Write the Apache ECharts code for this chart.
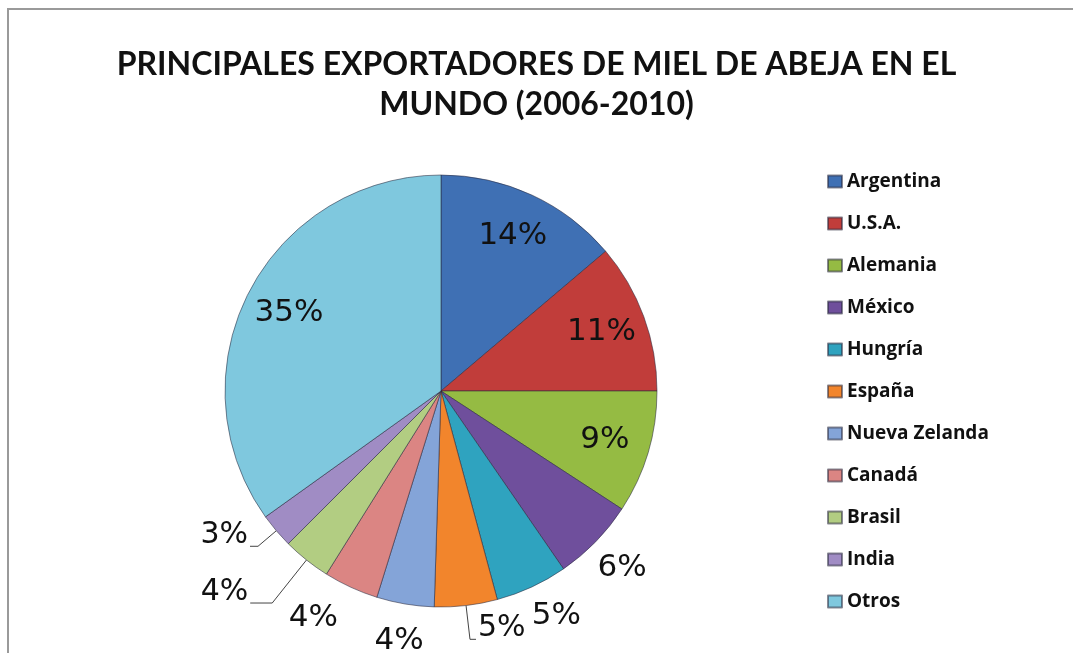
<!DOCTYPE html>
<html>
<head>
<meta charset="utf-8">
<script src="https://cdn.jsdelivr.net/npm/echarts@6/dist/echarts.min.js"></script>
<style>
  html, body { margin: 0; padding: 0; background: #fff; }
  #chart { width: 1073px; height: 653px; }
</style>
</head>
<body>
<div id="chart"></div>
<script>
// datos (porcentaje de exportaciones 2006-2010)
const paises = ['Argentina', 'U.S.A.', 'Alemania', 'México', 'Hungría', 'España',
  'Nueva Zelanda', 'Canadá', 'Brasil', 'India', 'Otros']
const valores = [13.8, 11.2, 9.2, 6.2, 5.4, 4.7, 4.3, 4.1, 3.6, 2.6, 34.9]
const colores = ['#3f70b4', '#c13d3a', '#95bb43', '#6f4f9c', '#2fa3bf', '#f2852c',
  '#84a4d8', '#db8583', '#b2cd82', '#a08cc4', '#7fc8de']
// donde va cada etiqueta: d = dentro, f = fuera sin linea, l = fuera con linea guia
const tipoEtiq = ['d', 'd', 'd', 'f', 'f', 'l', 'f', 'f', 'l', 'l', 'd']
const largoLinea = [0, 0, 0, 0, 0, 34, 0, 0, 55, 24, 0]
const largoLinea2 = [0, 0, 0, 0, 0, 6, 0, 0, 22, 8, 0]
// pequeños corrimientos de etiquetas exteriores (Excel no las centra justo en el sector)
const corrimiento = { 'Hungría': [9, -5], 'Canadá': [-22, -3] }

const chart = echarts.init(document.getElementById('chart'))

const labelFmt = p => Math.round(p.percent) + '%'
const fuente = { fontFamily: 'DejaVu Sans', fontSize: 30, color: '#111' }

const dataPie = paises.map((n, i) => ({
  name: n,
  value: valores[i],
  itemStyle: { color: colores[i] },
  label: { show: tipoEtiq[i] === 'l' },
  labelLine: { show: tipoEtiq[i] === 'l', length: largoLinea[i], length2: largoLinea2[i] }
}))

// series transparentes: solo sirven para ubicar etiquetas a cierta distancia del centro
const etiquetas = (tipo) => paises.map((n, i) => ({
  name: n,
  value: valores[i],
  label: { show: tipoEtiq[i] === tipo }
}))

const serieEtiq = (tipo, r) => ({
  type: 'pie',
  center: [441, 391],
  radius: [0, r],
  startAngle: 90,
  clockwise: true,
  silent: true,
  legendHoverLink: false,
  data: etiquetas(tipo),
  itemStyle: { color: 'rgba(0,0,0,0)', borderWidth: 0 },
  label: Object.assign({ position: 'inner', formatter: labelFmt }, fuente, { fontSize: 31 }),
  labelLine: { show: false },
  labelLayout: p => {
    const c = corrimiento[paises[p.dataIndex]]
    return c ? { dx: c[0], dy: c[1] } : {}
  },
  emphasis: { disabled: true }
})

chart.setOption({
  backgroundColor: '#fff',
  title: {
    text: 'PRINCIPALES EXPORTADORES DE MIEL DE ABEJA EN EL\nMUNDO (2006-2010)',
    left: 'center',
    top: 40,
    textStyle: {
      fontFamily: 'Lato',
      fontWeight: 'bold',
      fontSize: 32,
      lineHeight: 40,
      color: '#111'
    }
  },
  legend: {
    orient: 'vertical',
    left: 822,
    top: 167,
    height: 480,
    itemWidth: 14,
    itemHeight: 12,
    itemGap: 23,
    icon: 'rect',
    data: paises,
    textStyle: {
      fontFamily: 'Open Sans',
      fontWeight: 'bold',
      fontSize: 19,
      color: '#111'
    }
  },
  graphic: [{
    type: 'rect',
    shape: { x: 8, y: 9, width: 1100, height: 700 },
    style: { fill: 'none', stroke: '#9a9a9a', lineWidth: 2 },
    silent: true
  }],
  series: [
    {
      type: 'pie',
      center: [441, 391],
      radius: [0, 216],
      startAngle: 90,
      clockwise: true,
      avoidLabelOverlap: false,
      data: dataPie,
      itemStyle: { borderColor: 'rgba(40,40,60,0.55)', borderWidth: 1 },
      label: Object.assign({
        position: 'outside',
        formatter: labelFmt,
        distanceToLabelLine: 2
      }, fuente),
      labelLine: { lineStyle: { color: '#444', width: 1 } },
      // el texto queda un poco por encima del final de la linea, como en Excel
      labelLayout: () => ({ dy: -11 }),
      emphasis: { disabled: true }
    },
    serieEtiq('d', 336),
    serieEtiq('f', 500)
  ]
})
</script>
</body>
</html>
